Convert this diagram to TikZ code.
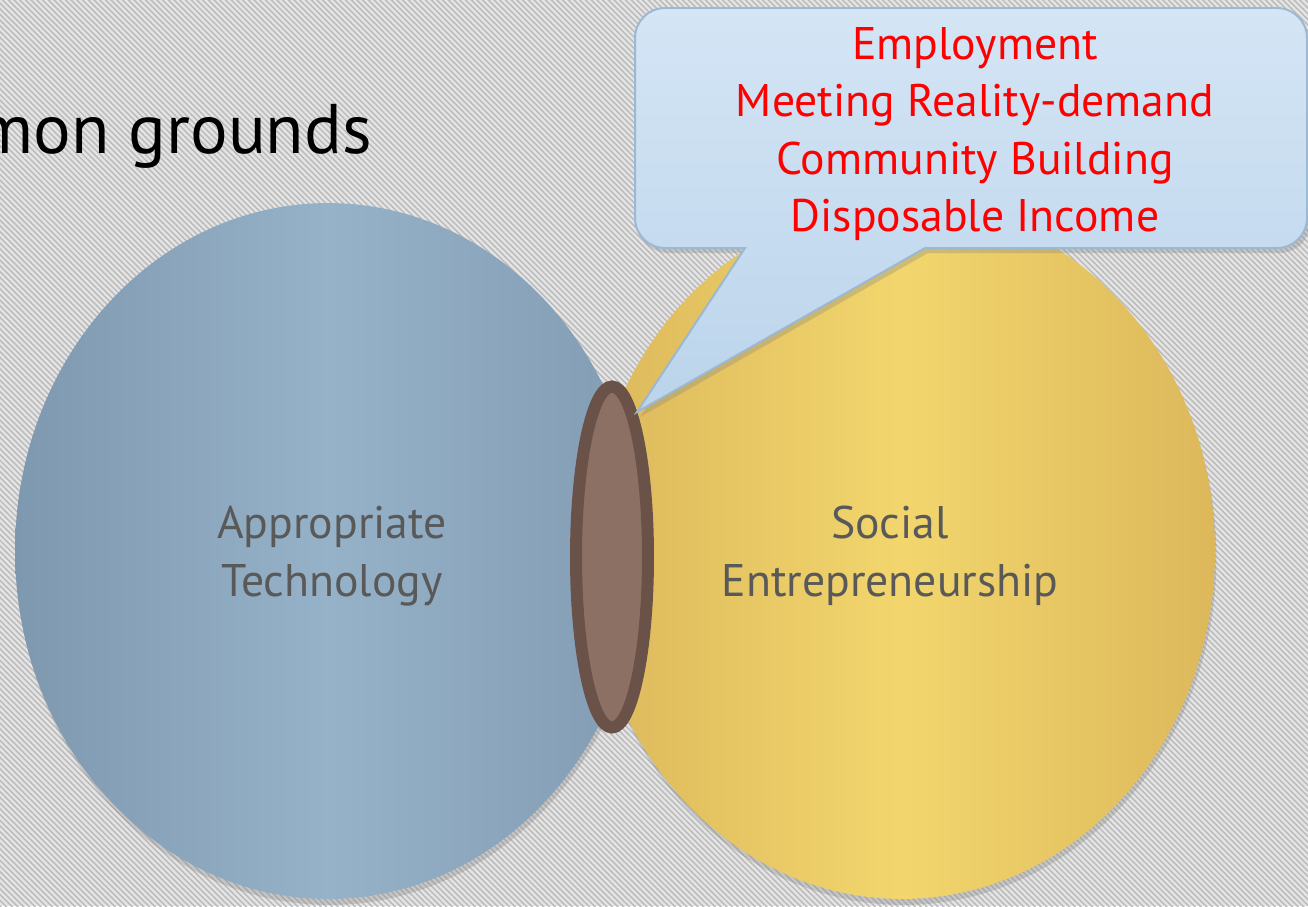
\documentclass[tikz,border=0pt]{standalone}
\usepackage{fontspec}
\setmainfont{PT Sans}
\usetikzlibrary{shapes.geometric,shadows,patterns.meta}
\definecolor{bgGray}{HTML}{E4E4E4}
\definecolor{hatchGray}{HTML}{B9B9B9}
\definecolor{blueEdge}{HTML}{7E98AF}
\definecolor{blueMid}{HTML}{96B2C8}
\definecolor{yellowEdge}{HTML}{DCB85B}
\definecolor{yellowMid}{HTML}{F2D66D}
\definecolor{brownFill}{HTML}{8C7064}
\definecolor{brownLine}{HTML}{6A5249}
\definecolor{noteTop}{HTML}{D4E5F5}
\definecolor{noteBottom}{HTML}{BBD4EB}
\definecolor{noteLine}{HTML}{9CB8D2}
\definecolor{labelGray}{HTML}{595959}
\tikzset{
	disc/.style = {
		ellipse,
		minimum width = 12.52cm,
		minimum height = 13.92cm,
		inner sep = 0pt,
		drop shadow = {shadow xshift = 0.03cm, shadow yshift = -0.12cm, opacity = 0.3}
	},
	disc label/.style = {
		align = center,
		text = labelGray,
		font = \fontsize{26}{32.7}\selectfont
	},
	note/.style = {
		draw = noteLine,
		line width = 0.04cm,
		top color = noteTop,
		bottom color = noteBottom,
		drop shadow = {shadow xshift = 0.06cm, shadow yshift = -0.1cm, opacity = 0.3}
	},
	note text/.style = {
		align = center,
		text = red,
		font = \fontsize{26}{32.7}\selectfont
	}
}

\begin{document}
\begin{tikzpicture}[x = 0.02cm, y = -0.02cm]
    \useasboundingbox (0,0) rectangle (1308,906) ;
    \clip (0,0) rectangle (1308,906) ;
    % hatched backdrop
    \fill [bgGray] (0,0) rectangle (1308,906) ;
    \fill [pattern = {Lines[angle = -45, distance = 2.3pt, line width = 0.8pt]}, pattern color = hatchGray] (0,0) rectangle (1308,906) ;

    \node [anchor = base east, font = \fontsize{40}{46}\selectfont] (title) at (378,153) {Common grounds} ;

    \node [disc, left color = blueEdge, right color = blueEdge!85!blueMid, middle color = blueMid] (tech) at (328,551) {} ;
    \node [disc, left color = yellowEdge, right color = yellowEdge, middle color = yellowMid] (social) at (902,551) {} ;
    \node [disc label] (tech label) at (332,556) {Appropriate\\Technology} ;
    \node [disc label] (social label) at (890,556) {Social\\Entrepreneurship} ;

    \node [ellipse, draw = brownLine, line width = 0.24cm, fill = brownFill, inner sep = 0pt, minimum width = 1.44cm, minimum height = 6.82cm] (overlap) at (612,557) {} ;

    % speech bubble
    \coordinate (tip) at (637,412) ;
    \coordinate (base left) at (745,248) ;
    \coordinate (base right) at (925,248) ;
    \draw [note] (970,8) [rounded corners = 0.6cm] -- (1307,8) -- (1307,248) [sharp corners] -- (base right) -- (tip) -- (base left) [rounded corners = 0.6cm] -- (635,248) -- (635,8) -- cycle ;
    \node [note text] (benefits) at (975,134) {Employment\\Meeting Reality-demand\\Community Building\\Disposable Income} ;
\end{tikzpicture}
\end{document}
